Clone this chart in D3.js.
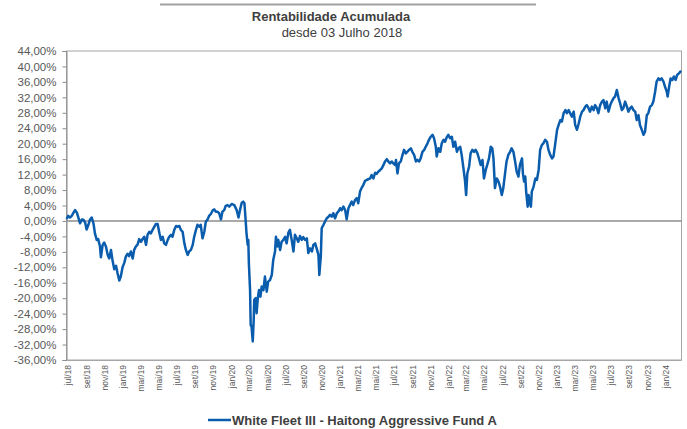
<!DOCTYPE html>
<html>
<head>
<meta charset="utf-8">
<script src="https://cdn.jsdelivr.net/npm/d3@7"></script>
<style>
  html, body { margin: 0; padding: 0; background: #fff; }
  svg { display: block; font-family: "Liberation Sans", Arial, sans-serif; }
</style>
</head>
<body>
<svg id="chart" width="687" height="429"></svg>
<script>
const titleText = "Rentabilidade Acumulada";
const subtitleText = "desde 03 Julho 2018";
const seriesName = "White Fleet III - Haitong Aggressive Fund A";

const dates = [
"2018-07-03","2018-07-07","2018-07-13","2018-07-19","2018-07-24","2018-07-30","2018-08-05","2018-08-10","2018-08-16","2018-08-22",
"2018-08-27","2018-09-02","2018-09-07","2018-09-13","2018-09-18","2018-09-24","2018-09-30","2018-10-05","2018-10-11","2018-10-16",
"2018-10-22","2018-10-25","2018-10-31","2018-11-05","2018-11-11","2018-11-17","2018-11-22","2018-11-28","2018-12-03","2018-12-09",
"2018-12-15","2018-12-20","2018-12-26","2018-12-31","2019-01-06","2019-01-12","2019-01-17","2019-01-23","2019-01-28","2019-02-03",
"2019-02-09","2019-02-14","2019-02-20","2019-02-25","2019-03-03","2019-03-09","2019-03-14","2019-03-20","2019-03-26","2019-03-31",
"2019-04-06","2019-04-11","2019-04-17","2019-04-23","2019-04-28","2019-05-04","2019-05-10","2019-05-15","2019-05-21","2019-05-26",
"2019-06-01","2019-06-07","2019-06-12","2019-06-18","2019-06-23","2019-06-29","2019-07-05","2019-07-10","2019-07-16","2019-07-21",
"2019-07-27","2019-08-02","2019-08-07","2019-08-13","2019-08-18","2019-08-24","2019-08-30","2019-09-04","2019-09-10","2019-09-15",
"2019-09-21","2019-09-26","2019-10-02","2019-10-08","2019-10-13","2019-10-19","2019-10-24","2019-10-30","2019-11-05","2019-11-10",
"2019-11-16","2019-11-21","2019-11-27","2019-12-03","2019-12-08","2019-12-14","2019-12-19","2019-12-25","2019-12-31","2020-01-08",
"2020-01-17","2020-01-25","2020-01-31","2020-02-05","2020-02-11","2020-02-16","2020-02-20","2020-02-24","2020-02-27","2020-03-02",
"2020-03-04","2020-03-06","2020-03-10","2020-03-12","2020-03-15","2020-03-19","2020-03-22","2020-03-24","2020-03-29","2020-04-01",
"2020-04-05","2020-04-09","2020-04-14","2020-04-18","2020-04-24","2020-04-29","2020-05-05","2020-05-10","2020-05-16","2020-05-22",
"2020-05-27","2020-06-02","2020-06-05","2020-06-10","2020-06-13","2020-06-19","2020-06-24","2020-06-30","2020-07-06","2020-07-11",
"2020-07-17","2020-07-22","2020-07-28","2020-08-03","2020-08-08","2020-08-14","2020-08-19","2020-08-25","2020-08-31","2020-09-05",
"2020-09-11","2020-09-17","2020-09-22","2020-09-28","2020-10-04","2020-10-09","2020-10-15","2020-10-20","2020-10-26","2020-10-29",
"2020-11-03","2020-11-06","2020-11-12","2020-11-17","2020-11-23","2020-11-29","2020-12-04","2020-12-10","2020-12-15","2020-12-21",
"2020-12-27","2021-01-01","2021-01-07","2021-01-12","2021-01-18","2021-01-24","2021-01-29","2021-02-04","2021-02-09","2021-02-15",
"2021-02-20","2021-02-26","2021-03-04","2021-03-09","2021-03-15","2021-03-20","2021-03-26","2021-04-01","2021-04-06","2021-04-18",
"2021-04-23","2021-04-29","2021-05-05","2021-05-10","2021-05-16","2021-05-22","2021-05-27","2021-06-02","2021-06-07","2021-06-13",
"2021-06-18","2021-06-24","2021-06-30","2021-07-05","2021-07-11","2021-07-14","2021-07-19","2021-07-24","2021-07-30","2021-08-05",
"2021-08-10","2021-08-16","2021-08-21","2021-08-27","2021-09-02","2021-09-07","2021-09-13","2021-09-19","2021-09-24","2021-09-30",
"2021-10-05","2021-10-11","2021-10-17","2021-10-22","2021-10-28","2021-11-02","2021-11-08","2021-11-14","2021-11-19","2021-11-25",
"2021-11-28","2021-12-04","2021-12-10","2021-12-15","2021-12-21","2021-12-26","2022-01-01","2022-01-06","2022-01-12","2022-01-18",
"2022-01-23","2022-01-29","2022-02-04","2022-02-09","2022-02-15","2022-02-20","2022-02-26","2022-03-03","2022-03-07","2022-03-11",
"2022-03-17","2022-03-22","2022-03-28","2022-04-03","2022-04-08","2022-04-14","2022-04-19","2022-04-25","2022-05-01","2022-05-06",
"2022-05-12","2022-05-17","2022-05-23","2022-05-29","2022-06-03","2022-06-07","2022-06-12","2022-06-18","2022-06-24","2022-06-29",
"2022-07-05","2022-07-10","2022-07-16","2022-07-21","2022-07-27","2022-08-02","2022-08-07","2022-08-13","2022-08-18","2022-08-24",
"2022-08-30","2022-09-04","2022-09-11","2022-09-14","2022-09-18","2022-09-22","2022-09-25","2022-09-30","2022-10-03","2022-10-07",
"2022-10-11","2022-10-14","2022-10-20","2022-10-26","2022-10-31","2022-11-06","2022-11-11","2022-11-17","2022-11-22","2022-11-28",
"2022-12-04","2022-12-09","2022-12-15","2022-12-21","2022-12-26","2023-01-01","2023-01-07","2023-01-12","2023-01-18","2023-01-23",
"2023-01-29","2023-02-04","2023-02-09","2023-02-15","2023-02-20","2023-02-26","2023-03-04","2023-03-09","2023-03-15","2023-03-21",
"2023-03-26","2023-04-01","2023-04-06","2023-04-12","2023-04-17","2023-04-23","2023-04-28","2023-05-04","2023-05-10","2023-05-15",
"2023-05-21","2023-05-26","2023-06-01","2023-06-07","2023-06-12","2023-06-18","2023-06-23","2023-06-29","2023-07-05","2023-07-10",
"2023-07-16","2023-07-21","2023-07-27","2023-08-02","2023-08-07","2023-08-13","2023-08-18","2023-08-24","2023-08-30","2023-09-04",
"2023-09-10","2023-09-15","2023-09-21","2023-09-27","2023-10-02","2023-10-08","2023-10-13","2023-10-19","2023-10-25","2023-10-30",
"2023-11-05","2023-11-10","2023-11-16","2023-11-22","2023-11-27","2023-12-03","2023-12-08","2023-12-14","2023-12-19","2023-12-25",
"2023-12-31","2024-01-05","2024-01-11","2024-01-14","2024-01-20","2024-01-24","2024-01-30","2024-02-04","2024-02-10","2024-02-15",
"2024-02-21","2024-02-26"
];

const values = [
0.7,1.3,0.9,1.3,2.0,2.8,2.2,0.9,-0.6,0.4,
0.3,-0.4,-2.2,-1.0,0.3,0.9,-0.6,-3.2,-4.9,-4.7,
-6.6,-9.4,-6.2,-5.6,-6.6,-8.8,-9.7,-7.5,-10.1,-12.5,
-11.6,-13.5,-15.4,-14.4,-12.0,-10.8,-9.2,-8.5,-9.1,-7.9,
-9.7,-7.5,-6.6,-6.2,-4.7,-5.4,-4.7,-4.1,-6.2,-3.6,
-2.8,-3.2,-2.3,-1.5,-0.8,-0.8,-3.2,-4.9,-4.1,-5.8,
-6.2,-4.9,-4.1,-3.6,-4.1,-2.3,-1.3,-1.5,-1.3,-2.3,
-2.8,-5.8,-7.5,-8.8,-7.9,-7.5,-6.2,-4.1,-2.3,-1.0,
-1.5,-1.0,-4.5,-2.8,-0.2,0.4,1.3,1.8,2.7,3.0,
2.4,2.4,2.0,0.4,2.4,2.8,3.9,4.1,3.7,4.4,
4.1,2.8,0.9,2.8,4.7,5.0,4.6,0.3,-3.2,-6.2,
-4.9,-11.0,-17.9,-26.9,-27.4,-31.2,-26.1,-20.4,-20.0,-23.9,
-20.0,-17.9,-19.6,-17.0,-17.9,-14.4,-18.3,-15.7,-15.3,-14.0,
-10.1,-7.9,-4.1,-6.6,-4.9,-7.5,-5.4,-4.9,-4.1,-5.8,
-3.0,-2.3,-4.9,-7.9,-3.6,-4.5,-5.4,-3.9,-4.9,-4.2,
-4.9,-4.5,-8.3,-7.1,-7.9,-6.2,-5.8,-7.1,-8.8,-14.0,
-9.2,-1.9,-1.0,-0.2,0.7,1.1,1.6,1.1,2.0,0.7,
2.0,2.4,3.3,2.8,3.7,2.8,0.4,3.3,4.1,5.0,
4.1,5.4,5.9,4.6,7.6,8.5,9.3,10.4,10.6,11.0,
11.9,11.0,12.5,12.2,12.8,13.2,13.6,14.5,15.4,16.0,
15.4,14.9,15.4,14.9,14.5,15.8,12.3,14.9,15.4,17.1,
18.4,17.5,17.9,18.4,18.8,17.9,17.1,15.4,15.8,15.4,
16.2,17.9,18.4,19.2,20.1,21.0,21.8,22.3,21.4,19.2,
16.7,18.8,17.9,20.1,21.0,20.5,21.7,22.3,21.4,21.8,
19.2,20.5,17.9,18.8,19.2,17.1,13.6,10.6,6.7,12.3,
14.1,17.5,18.4,17.9,18.4,17.5,16.2,14.5,15.8,11.0,
13.2,14.5,16.2,19.2,18.8,16.2,8.5,11.0,10.2,8.9,
6.7,8.5,12.3,15.4,17.1,17.9,18.8,17.9,15.8,12.8,
11.5,14.5,16.2,12.3,10.2,11.5,7.6,3.7,6.7,4.6,
3.7,7.6,8.9,11.0,10.6,13.2,18.4,19.7,20.1,21.0,
20.5,18.4,17.1,16.2,16.7,20.1,23.6,24.8,26.1,25.7,
27.9,28.7,27.9,28.7,27.9,27.0,28.3,24.8,23.6,25.3,
27.0,28.3,28.7,29.6,30.0,29.2,28.3,29.6,28.7,30.0,
29.2,27.9,30.0,30.9,31.3,29.2,30.9,28.3,30.0,30.9,
31.8,32.2,33.9,31.8,30.5,28.7,29.2,30.9,29.6,28.3,
29.2,29.6,28.7,28.3,26.1,27.4,24.8,23.6,22.3,23.1,
27.4,27.9,29.6,30.0,30.9,33.5,36.1,36.9,36.5,36.9,
36.1,34.8,33.5,32.2,35.2,36.9,36.5,37.4,36.5,37.8,
38.2,38.7
];

const yTicks = [44,40,36,32,28,24,20,16,12,8,4,0,-4,-8,-12,-16,-20,-24,-28,-32,-36];

const xTickDates = [
"2018-07-01","2018-09-01","2018-11-01","2019-01-01","2019-03-01","2019-05-01","2019-07-01","2019-09-01","2019-11-01",
"2020-01-01","2020-03-01","2020-05-01","2020-07-01","2020-09-01","2020-11-01","2021-01-01","2021-03-01","2021-05-01",
"2021-07-01","2021-09-01","2021-11-01","2022-01-01","2022-03-01","2022-05-01","2022-07-01","2022-09-01","2022-11-01",
"2023-01-01","2023-03-01","2023-05-01","2023-07-01","2023-09-01","2023-11-01","2024-01-01"
];
const xTickLabels = [
"jul/18","set/18","nov/18","jan/19","mar/19","mai/19","jul/19","set/19","nov/19",
"jan/20","mar/20","mai/20","jul/20","set/20","nov/20","jan/21","mar/21","mai/21",
"jul/21","set/21","nov/21","jan/22","mar/22","mai/22","jul/22","set/22","nov/22",
"jan/23","mar/23","mai/23","jul/23","set/23","nov/23","jan/24"
];

const parse = d3.timeParse("%Y-%m-%d");
const data = dates.map((d, i) => ({ date: parse(d), value: values[i] }));
const tickDates = xTickDates.map(parse);

const svg = d3.select("#chart");
const plotL = 66.5, plotR = 681.5, plotT = 51, plotB = 360;

const x = d3.scaleTime()
  .domain([parse("2018-07-03"), parse("2024-02-28")])
  .range([plotL + 0.5, plotR - 0.5]);
const y = d3.scaleLinear().domain([-36, 44]).range([plotB, plotT]);

svg.append("rect").attr("width", 687).attr("height", 429).attr("fill", "#fff");

// top decorative line
svg.append("line").attr("x1", 160).attr("x2", 536).attr("y1", 4.5).attr("y2", 4.5)
  .attr("stroke", "#a0a0a0").attr("stroke-width", 2);

svg.append("text").attr("x", 331).attr("y", 21).attr("text-anchor", "middle")
  .attr("font-size", 13).attr("font-weight", "bold").attr("fill", "#404040").text(titleText);
svg.append("text").attr("x", 342).attr("y", 37).attr("text-anchor", "middle")
  .attr("font-size", 13).attr("fill", "#404040").text(subtitleText);

// plot border
svg.append("rect").attr("x", plotL).attr("y", plotT).attr("width", plotR - plotL).attr("height", plotB - plotT)
  .attr("fill", "none").attr("stroke", "#a6a6a6").attr("stroke-width", 1);

// y axis
const fmt = v => v.toFixed(2).replace(".", ",") + "%";
const yAxis = svg.append("g").attr("transform", `translate(${plotL},0)`)
  .call(d3.axisLeft(y).tickValues(yTicks).tickFormat(fmt).tickSize(4).tickPadding(6));
yAxis.select(".domain").attr("stroke", "#8c8c8c");
yAxis.selectAll(".tick line").attr("stroke", "#8c8c8c");
yAxis.selectAll(".tick text").attr("font-size", 11.5).attr("fill", "#595959")
  .attr("font-family", "'Liberation Sans', Arial, sans-serif");

// x axis
const xAxis = svg.append("g").attr("transform", `translate(0,${plotB})`)
  .call(d3.axisBottom(x).tickValues(tickDates).tickFormat((d, i) => xTickLabels[i]).tickSize(0).tickPadding(0));
xAxis.select(".domain").attr("stroke", "#a6a6a6");
xAxis.selectAll(".tick text")
  .attr("font-size", 8.5).attr("fill", "#595959")
  .attr("font-family", "'Liberation Sans', Arial, sans-serif")
  .attr("text-anchor", "end")
  .attr("transform", "translate(1.5,5) rotate(-90)")
  .attr("x", 0).attr("y", 0).attr("dy", "0.35em");

// zero line
svg.append("line").attr("x1", plotL).attr("x2", plotR).attr("y1", y(0)).attr("y2", y(0))
  .attr("stroke", "#8c8c8c").attr("stroke-width", 1.5);

// series line
const line = d3.line().x(d => x(d.date)).y(d => y(d.value));
svg.append("path").datum(data).attr("d", line)
  .attr("fill", "none").attr("stroke", "#0a5cad").attr("stroke-width", 2.5)
  .attr("stroke-linejoin", "round").attr("stroke-linecap", "round");

// legend
svg.append("line").attr("x1", 208).attr("x2", 231).attr("y1", 420).attr("y2", 420)
  .attr("stroke", "#0a5cad").attr("stroke-width", 2.5);
svg.append("text").attr("x", 232).attr("y", 424.5).attr("font-size", 13).attr("font-weight", "bold")
  .attr("fill", "#404040").text(seriesName);
</script>
</body>
</html>
